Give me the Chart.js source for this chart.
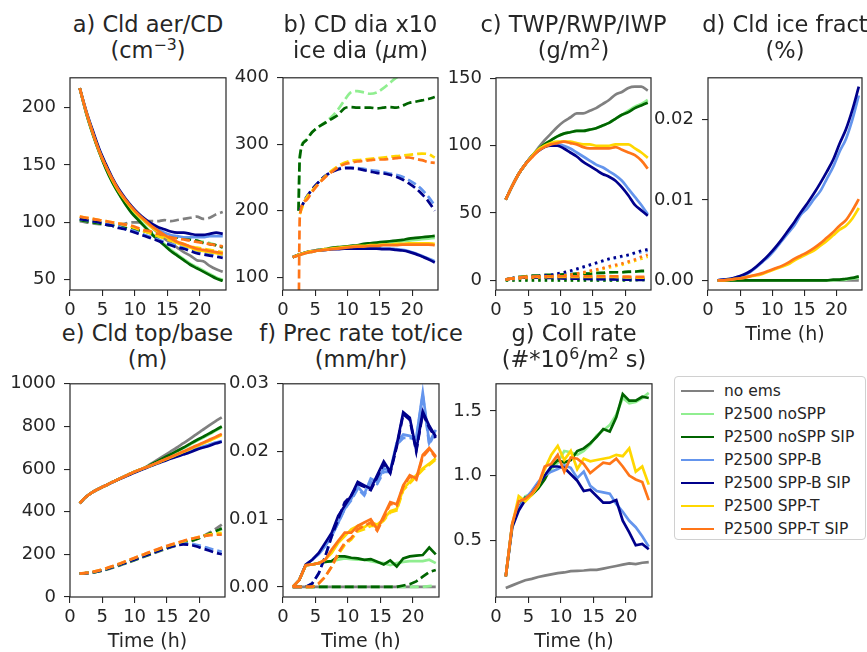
<!DOCTYPE html>
<html>
<head>
<meta charset="utf-8">
<script src="https://cdn.jsdelivr.net/npm/chart.js@4.4.0/dist/chart.umd.min.js"></script>
<style>
  body { margin: 0; background: #fff; overflow: hidden; }
  #fig { position: relative; width: 867px; height: 652px; font-family: 'DejaVu Sans', sans-serif; color: #262626; }
  #fig canvas { position: absolute; }
  .ttl { position: absolute; text-align: center; white-space: nowrap; font-size: 22.5px; line-height: 25.5px; }
  .ttl sup { font-size: 0.7em; vertical-align: 0; position: relative; top: -0.5em; line-height: 0; }
  #legend { position: absolute; left: 674px; top: 376px; width: 192px; height: 164px; border: 1px solid #d0d0d0; border-radius: 4px; box-sizing: border-box; }
  .lrow { position: absolute; left: 0; height: 23px; font-size: 15.5px; line-height: 23px; white-space: nowrap; }
  .lrow span { position: absolute; left: 6px; top: 10.5px; width: 33px; height: 0; border-top: 2.7px solid; }
  .lrow b { position: absolute; left: 49px; font-weight: normal; }
</style>
</head>
<body>
<div id="fig"><div id="legend"></div></div>
<script>
const times = [1.5, 2.5, 3.5, 4.5, 5.5, 6.5, 7.5, 8.5, 9.5, 10.5, 11.5, 12.5, 13.5, 14.5, 15.5, 16.5, 17.5, 18.5, 19.5, 20.5, 21.5, 22.5, 23.5];
const iceTimes = [2.4, 2.6, 3.5, 4.5, 5.5, 6.5, 7.5, 8.5, 9.5, 10.5, 11.5, 12.5, 13.5, 14.5, 15.5, 16.5, 17.5, 18.5, 19.5, 20.5, 21.5, 22.5, 23.5];
const xTicks = [0, 5, 10, 15, 20];

const runNames = ['no ems', 'P2500 noSPP', 'P2500 noSPP SIP', 'P2500 SPP-B', 'P2500 SPP-B SIP', 'P2500 SPP-T', 'P2500 SPP-T SIP'];
const runColors = ['#808080', '#90ee90', '#006400', '#6495ed', '#00008b', '#ffd700', '#ff7518'];

// every table below has one row per run, in runNames order (null = not plotted)

// a) cloud droplets (solid) and cloud aerosol (dashed), cm-3
const cldDrop = [
    [217,196,178,162,149,137,127,119,112,106,101,96,91,86,82,78,74,71,67,66,62,59,57],
    [217,195,177,161,147,135,125,116,109,103,97,91,86,81,76,72,68,64,61,58,55,52,50],
    [217,195,177,161,147,135,125,116,108,102,96,90,85,80,75,71,67,63,60,57,54,51,49],
    [217,196,179,163,150,138,128,120,113,107,102,97,94,91,89,88,87,87,87,87,88,88,88],
    [217,197,180,164,151,139,129,121,114,108,103,99,96,94,92,91,91,90,89,89,90,91,90],
    [217,196,178,162,149,137,127,119,112,106,101,96,92,88,85,82,80,78,76,75,74,73,72],
    [217,196,178,162,149,138,128,120,113,107,102,97,93,89,86,83,81,79,77,76,75,74,73]
];
const cldAer = [
    [101,100,99,98.5,98,98,98,99,100,100,101,101,101,102,101,102,103,104,105,103,104,107,109],
    [102,101,100,99,98,97,96,95,94,93,92,91,90,89,88,87,86,85,84,83,82,80,79],
    [102,101,100,99,98,97,96,95,94,93,92,91,90,89,88,87,86,85,84,82,81,80,78],
    [103,102,101,100,99,97,96,94,93,91,89,87,85,83,81,80,78,77,75,74,73,72,72],
    [103,102,101,100,98,97,95,94,92,90,88,86,84,82,80,78,77,75,73,72,71,70,69],
    [105,104,103,102,101,100,99,98,96,94,92,90,88,86,84,83,81,79,78,77,76,75,74],
    [105,104,103,102,101,100,99,98,97,95,93,92,90,89,87,86,85,84,83,82,81,80,79]
];

// b) droplet diameter x10 (solid, times) and ice diameter (dashed, iceTimes), um
const dropDia = [
    null,
    [130,133,136,138,140,141,143,144,145,146,147,148,149,150,151,152,153,154,155,156,157,158,159],
    [130,134,137,139,141,142,144,145,146,147,148,150,151,152,153,154,155,156,158,159,160,161,162],
    [130,134,137,139,140,141,142,143,143,144,144,144,144,144,143,143,142,141,139,136,132,128,124],
    [130,134,137,139,140,141,142,142,143,143,143,143,143,143,142,142,141,140,138,135,131,127,122],
    [130,134,137,139,140,142,143,144,145,146,147,147,148,148,149,149,150,150,151,151,151,151,150],
    [130,133,136,138,140,141,142,143,144,145,146,146,147,147,148,148,148,149,149,149,149,149,148]
];
const iceDia = [
    null,
    [200,282,306,318,326,333,341,352,366,378,380,378,376,378,384,392,400,406,411,416,420,424,428],
    [200,280,305,318,326,332,338,344,354,356,355,355,355,354,355,356,355,358,362,364,366,368,371],
    [null,200,218,232,243,252,258,263,265,265,264,263,261,260,258,256,254,251,246,240,232,221,208],
    [null,200,218,232,243,252,258,262,264,264,263,261,259,257,256,254,251,247,241,234,225,214,200],
    [null,195,217,230,241,251,260,267,272,275,276,277,278,279,280,281,282,283,284,285,286,285,280],
    [0,190,215,228,240,250,258,265,270,272,274,275,276,277,277,278,279,280,280,278,276,273,272]
];

// c) total (solid), rain (dashed) and ice (dotted) water path, g/m2
const twp = [
    [60,70,79,86,92,98,104,109,114,118,121,124,124,126,128,131,134,138,140,143,144,144,141],
    [60,70,79,86,92,97,101,104,107,109,110,111,111,112,113,115,117,120,123,126,129,131,134],
    [60,70,79,86,92,97,101,104,107,109,110,111,111,112,113,115,117,120,123,125,128,130,132],
    [60,70,79,86,92,96,99,101,101,100,98,95,92,89,86,84,81,78,74,68,62,56,49],
    [60,70,79,86,92,96,99,100,100,98,95,92,88,85,82,79,77,74,69,63,56,52,48],
    [60,70,79,86,92,97,100,102,103,103,103,102,101,101,100,100,100,101,101,101,98,95,91],
    [60,70,79,86,91,96,99,101,102,103,102,101,99,98,98,98,98,99,97,95,93,89,83]
];
const rwp = [
    [0.5,1.5,2,2,2,2,2,2,2,1.5,1.5,1.5,1.5,1,1,1,1,1,1,1,1,1,1],
    [0.5,1.5,2,2.5,3,3,3.5,3.5,4,4,4.5,4.5,5,5,5,5.5,5.5,6,6,6,6.5,6.5,7],
    [0.5,1.5,2.5,3,3.5,3.5,4,4,4,4.5,4.5,5,5,5,5.5,5.5,6,6,6,6.5,6.5,7,7],
    [0.5,1.5,2,2,2,2,2,2,1.8,1.6,1.5,1.4,1.3,1.2,1.1,1,1,0.9,0.8,0.7,0.6,0.5,0.5],
    [0.5,1.5,2,2,2,2,1.9,1.8,1.6,1.4,1.3,1.2,1.1,1,0.9,0.8,0.7,0.6,0.5,0.4,0.3,0.3,0.2],
    [0.5,1.5,2,2.5,2.5,2.5,2.5,2.5,2.5,2.5,2.5,2.5,2.5,2.5,2.5,2.5,2.5,2.5,2.3,2.2,2.1,2,2],
    [0.5,1.5,2,2.5,2.5,3,3,3,3,3,3,3,3,3,3,3,3,3,2.8,2.7,2.6,2.5,2.5]
];
const iwp = [
    null,
    [0,0,0,0,0,0,0,0,0,0,0,0,0,0,0,0,0,0,0,0.1,0.2,0.3,0.4],
    [0,0,0,0,0,0,0,0,0,0,0,0,0,0,0,0,0,0,0,0.1,0.2,0.3,0.4],
    [0.5,1,1.5,2,2.5,3,3.5,4,4.5,5.5,6.5,8,9.5,11,12.5,14,15.5,16.5,17.5,18.5,20,21,22],
    [0.5,1,1.5,2,2.5,3,3.5,4,5,6,7,8.5,10,11.5,13,14.5,16,17,18,19,20.5,22,23],
    [0.5,1,1.5,1.8,2,2.2,2.5,2.8,3.1,3.5,4,4.7,5.5,6.5,7.5,8.5,9.5,10.5,11.5,13,14.5,16,17.5],
    [0.5,1,1.5,1.8,2,2.3,2.6,3,3.3,3.7,4.2,5,6,7,8,9,10.5,11.5,12.5,14,15.5,17.5,19]
];

// d) cloud ice fraction, %
const iceFrac = [
    [0,0,0,0,0,0,0,0,0,0,0,0,0,0,0,0,0,0,0,0,0,0,0],
    [0,0,0,0,0,0,0,0,0,0,0,0,0,0,0,0,0,0,0,0.00005,0.0001,0.0002,0.0003],
    [0,0,0,0,0,0,0,0,0,0,0,0,0,0,0,0,0,0,0.0001,0.0001,0.0002,0.0003,0.0005],
    [0,0.0001,0.0002,0.0004,0.0006,0.001,0.0016,0.0023,0.003,0.0039,0.0049,0.0059,0.0069,0.0082,0.009,0.0101,0.0111,0.0126,0.0141,0.016,0.0176,0.02,0.023],
    [0,0.0001,0.0002,0.0004,0.0007,0.0011,0.0017,0.0024,0.0032,0.0041,0.0051,0.0062,0.0073,0.0085,0.0096,0.0108,0.0121,0.0135,0.015,0.017,0.0188,0.0212,0.0241],
    [0,0,0.0001,0.0002,0.0003,0.0005,0.0006,0.0008,0.0011,0.0014,0.0017,0.002,0.0025,0.0029,0.0033,0.0037,0.0043,0.0049,0.0056,0.0063,0.0068,0.0077,0.009],
    [0,0,0.0001,0.0002,0.0003,0.0005,0.0007,0.0009,0.0012,0.0015,0.0018,0.0022,0.0027,0.0031,0.0035,0.004,0.0046,0.0053,0.006,0.0068,0.0075,0.0087,0.0101]
];

// e) cloud top (solid) and cloud base (dashed), m
const cldTop = [
    [440,470,492,508,523,538,552,566,580,593,605,624,643,662,681,700,720,740,762,783,804,824,843],
    [440,470,492,508,523,538,552,566,580,593,605,620,635,650,665,681,697,713,730,746,762,779,795],
    [440,470,492,508,523,538,552,566,580,593,605,620,636,652,668,684,700,717,734,750,766,783,800],
    [440,470,492,508,523,538,552,566,579,592,604,616,628,640,651,662,673,684,695,705,714,724,732],
    [440,470,492,508,523,537,551,564,577,590,602,614,626,637,648,658,668,678,690,700,708,720,728],
    [440,470,492,508,523,538,552,566,580,593,605,616,629,641,654,667,680,693,706,719,732,746,760],
    [440,470,492,508,523,538,552,566,580,593,605,617,630,643,656,669,682,695,709,722,736,750,765]
];
const cldBase = [
    [110,112,115,120,127,136,146,156,167,178,189,200,211,222,232,241,250,259,270,284,300,318,340],
    [110,112,115,121,128,138,148,158,169,180,191,202,213,224,234,243,252,261,271,282,293,305,318],
    [110,112,115,121,128,138,148,158,169,180,191,202,213,224,234,243,252,261,271,283,295,308,322],
    [110,112,116,122,130,140,150,160,171,182,193,204,215,226,235,243,250,250,245,238,228,220,212],
    [110,112,116,122,130,140,150,160,171,182,193,204,215,226,235,242,247,245,238,228,218,208,200],
    [110,113,118,125,133,143,154,165,177,189,200,211,222,233,243,252,261,270,278,286,293,298,300],
    [110,113,118,125,134,144,155,166,178,190,201,213,224,235,245,254,263,271,278,284,289,292,292]
];

// f) total (solid) and ice (dashed) precipitation rate, mm/hr
const precTot = [
    [0,0,0,0,0,0,0,0,0,0,0,0,0,0,0,0,0,0,0,0,0,0,0],
    [0,0.001,0.0032,0.0033,0.0035,0.0037,0.0038,0.004,0.0042,0.0041,0.004,0.004,0.0038,0.0036,0.0035,0.0032,0.0035,0.0037,0.0038,0.0038,0.0038,0.004,0.0035],
    [0,0.001,0.0032,0.0033,0.0035,0.0037,0.0038,0.0045,0.0045,0.0043,0.0042,0.004,0.0041,0.0037,0.0033,0.0039,0.003,0.0042,0.0045,0.0046,0.0047,0.0058,0.0048],
    [0,0.001,0.0033,0.004,0.0048,0.006,0.0075,0.0095,0.0115,0.013,0.0148,0.0137,0.016,0.0155,0.0175,0.0172,0.0213,0.0225,0.0223,0.022,0.0287,0.0213,0.0232],
    [0,0.001,0.0033,0.004,0.005,0.0065,0.008,0.0105,0.012,0.0135,0.0155,0.015,0.0145,0.0165,0.0185,0.017,0.021,0.0258,0.025,0.0202,0.0259,0.0238,0.0222],
    [0,0.001,0.0032,0.0033,0.0035,0.004,0.005,0.0065,0.0075,0.0085,0.009,0.0088,0.0095,0.0092,0.01,0.0112,0.0115,0.0145,0.0155,0.0165,0.0175,0.0182,0.019],
    [0,0.001,0.0032,0.0033,0.0035,0.004,0.0055,0.0068,0.008,0.008,0.009,0.0095,0.01,0.0085,0.0105,0.0125,0.0122,0.015,0.0165,0.016,0.0195,0.0205,0.0193]
];
const precIce = [
    null,
    [0,0,0,0,0,0,0,0,0,0,0,0,0,0,0,0,0,0,0,0,0,0.0001,0.0002],
    [0,0,0,0,0,0,0,0,0,0,0,0,0,0,0,0,0,0.0002,0.0004,0.0008,0.0015,0.0022,0.0025],
    [0,0,0,0.0005,0.002,0.0045,0.0075,0.0095,0.0115,0.0128,0.0145,0.0135,0.0155,0.0152,0.017,0.017,0.021,0.022,0.022,0.0218,0.0283,0.021,0.023],
    [0,0,0,0.0005,0.002,0.0045,0.0075,0.01,0.0125,0.0135,0.0152,0.0148,0.0143,0.0162,0.0182,0.0168,0.0207,0.0255,0.0247,0.02,0.0256,0.0235,0.022],
    [0,0,0,0,0.0005,0.0015,0.003,0.0048,0.0062,0.007,0.0082,0.0085,0.009,0.009,0.0098,0.011,0.0113,0.0143,0.0153,0.0163,0.0173,0.018,0.0188],
    [0,0,0,0,0.0005,0.0015,0.003,0.005,0.0065,0.0072,0.0085,0.009,0.0095,0.0083,0.0102,0.0123,0.012,0.0148,0.0163,0.0158,0.0192,0.0203,0.0191]
];

// g) collision rate, #*10^6/m2 s
const collRate = [
    [0.13,0.15,0.17,0.19,0.2,0.215,0.225,0.235,0.245,0.25,0.26,0.262,0.265,0.27,0.27,0.28,0.29,0.3,0.31,0.32,0.315,0.325,0.33],
    [0.22,0.62,0.75,0.84,0.86,0.91,0.98,1.05,1.1,1.19,1.18,1.16,1.19,1.24,1.31,1.35,1.39,1.47,1.6,1.56,1.57,1.6,1.64],
    [0.22,0.62,0.75,0.83,0.85,0.9,0.97,1.07,1.12,1.1,1.12,1.19,1.21,1.25,1.3,1.36,1.34,1.45,1.63,1.58,1.58,1.61,1.6],
    [0.22,0.62,0.75,0.82,0.88,0.95,1.0,1.03,1.05,1.08,1.06,0.98,1.03,0.92,0.88,0.87,0.86,0.78,0.72,0.65,0.6,0.53,0.45],
    [0.22,0.6,0.73,0.81,0.86,0.93,1.0,1.07,1.07,1.06,1.01,0.96,0.88,0.89,0.84,0.79,0.79,0.81,0.65,0.56,0.46,0.47,0.43],
    [0.22,0.62,0.84,0.8,0.85,0.92,1.05,1.16,1.23,1.12,1.19,1.05,1.13,1.11,1.12,1.13,1.14,1.16,1.15,1.21,1.03,1.07,0.93],
    [0.22,0.63,0.8,0.82,0.86,0.93,1.07,1.09,1.16,1.03,1.14,1.13,1.09,1.02,1.06,1.1,1.09,1.13,1.07,1.0,0.97,0.95,0.81]
];

const ink = '#262626';
const font = 'DejaVu Sans';
const dashes = { solid: [], dash: [9, 4], dot: [2.5, 4] };

const panels = [
    { title: 'a) Cld aer/CD<br>(cm<sup>−3</sup>)', box: [70, 71, 226, 290], y: [41, 226], yTicks: [50, 100, 150, 200], dec: 0, smooth: true,
      lines: [[cldDrop, 'solid', times], [cldAer, 'dash', times]] },
    { title: 'b) CD dia x10<br>ice dia (<i>μ</i>m)', box: [283, 71, 438, 290], y: [80.6, 400], yTicks: [100, 200, 300, 400], dec: 0, smooth: true,
      lines: [[dropDia, 'solid', times], [iceDia, 'dash', iceTimes]] },
    { title: 'c) TWP/RWP/IWP<br>(g/m<sup>2</sup>)', box: [496, 71, 651, 290], y: [-7.2, 150.5], yTicks: [0, 50, 100, 150], dec: 0, smooth: true,
      lines: [[twp, 'solid', times], [rwp, 'dash', times], [iwp, 'dot', times]] },
    { title: 'd) Cld ice fract<br>(%)', box: [708, 71, 862, 290], y: [-0.0012, 0.0252], yTicks: [0, 0.01, 0.02], dec: 2, smooth: true, xTitle: true,
      lines: [[iceFrac, 'solid', times]] },
    { title: 'e) Cld top/base<br>(m)', box: [70, 377, 225, 597], y: [0, 1000], yTicks: [0, 200, 400, 600, 800, 1000], dec: 0, smooth: true, xTitle: true,
      lines: [[cldTop, 'solid', times], [cldBase, 'dash', times]] },
    { title: 'f) Prec rate tot/ice<br>(mm/hr)', box: [283, 377, 439, 597], y: [-0.0015, 0.03], yTicks: [0, 0.01, 0.02, 0.03], dec: 2, smooth: false, xTitle: true,
      lines: [[precTot, 'solid', times], [precIce, 'dash', times]] },
    { title: 'g) Coll rate<br>(#*10<sup>6</sup>/m<sup>2</sup> s)', box: [496, 377, 652, 597], y: [0.06, 1.71], yTicks: [0.5, 1.0, 1.5], dec: 1, smooth: false, xTitle: true,
      lines: [[collRate, 'solid', times]] }
];

const framePlugin = {
    id: 'frame',
    afterDraw(chart) {
        const { ctx, chartArea: a } = chart;
        ctx.save();
        ctx.strokeStyle = ink;
        ctx.lineWidth = 1.2;
        ctx.strokeRect(a.left, a.top, a.right - a.left, a.bottom - a.top);
        ctx.restore();
    }
};

const fig = document.getElementById('fig');

panels.forEach(p => {
    const [L, T, R, B] = p.box;
    const padL = 72, padT = 12, padR = 8;
    const bottomH = p.xTitle ? 56 : 30;

    const title = document.createElement('div');
    title.className = 'ttl';
    title.innerHTML = p.title;
    title.style.left = (L - 50) + 'px';
    title.style.width = (R - L + 100) + 'px';
    title.style.top = (T < 200 ? 12 : 321) + 'px';
    fig.appendChild(title);

    const canvas = document.createElement('canvas');
    canvas.width = R - L + padL + padR;
    canvas.height = B - T + padT + bottomH;
    canvas.style.left = (L - padL) + 'px';
    canvas.style.top = (T - padT) + 'px';
    fig.appendChild(canvas);

    const datasets = [];
    runNames.forEach((name, i) => {
        p.lines.forEach(([rows, style, xs]) => {
            const vals = rows[i];
            if (!vals) return;
            datasets.push({
                label: name,
                data: xs.map((t, k) => ({ x: t, y: vals[k] })),
                borderColor: runColors[i],
                borderWidth: 2.7,
                borderDash: dashes[style],
                pointRadius: 0,
                fill: false,
                cubicInterpolationMode: p.smooth ? 'monotone' : 'default'
            });
        });
    });
    // Chart.js paints the first dataset on top, so flip to plotting order
    datasets.reverse();

    const tickFont = { family: font, size: 18 };
    const gridStyle = { display: true, drawOnChartArea: false, drawTicks: true, tickLength: 6, color: ink, lineWidth: 1.1 };

    new Chart(canvas, {
        type: 'line',
        data: { datasets },
        options: {
            responsive: false,
            animation: false,
            devicePixelRatio: 1,
            layout: { padding: { top: padT, right: padR, left: 0, bottom: 0 } },
            plugins: { legend: { display: false }, tooltip: { enabled: false } },
            scales: {
                x: {
                    type: 'linear',
                    min: 0,
                    max: 24,
                    afterBuildTicks: s => { s.ticks = xTicks.map(v => ({ value: v })); },
                    afterFit: s => { s.height = bottomH; },
                    grid: gridStyle,
                    border: { display: false },
                    ticks: { color: ink, font: tickFont, padding: 4, maxRotation: 0, autoSkip: false, callback: v => String(v) },
                    title: { display: !!p.xTitle, text: 'Time (h)', color: ink, font: { family: font, size: 19 }, padding: { top: 0, bottom: 0 } }
                },
                y: {
                    min: p.y[0],
                    max: p.y[1],
                    afterBuildTicks: s => { s.ticks = p.yTicks.map(v => ({ value: v })); },
                    afterFit: s => { s.width = padL; },
                    grid: gridStyle,
                    border: { display: false },
                    ticks: { color: ink, font: tickFont, padding: 8, callback: v => v.toFixed(p.dec) }
                }
            }
        },
        plugins: [framePlugin]
    });
});

// legend built from the run names and colours
const legend = document.getElementById('legend');
runNames.forEach((name, i) => {
    const row = document.createElement('div');
    row.className = 'lrow';
    row.style.top = (2.5 + 23 * i) + 'px';
    row.innerHTML = '<span style="border-color:' + runColors[i] + '"></span><b>' + name + '</b>';
    legend.appendChild(row);
});
</script>
</body>
</html>
